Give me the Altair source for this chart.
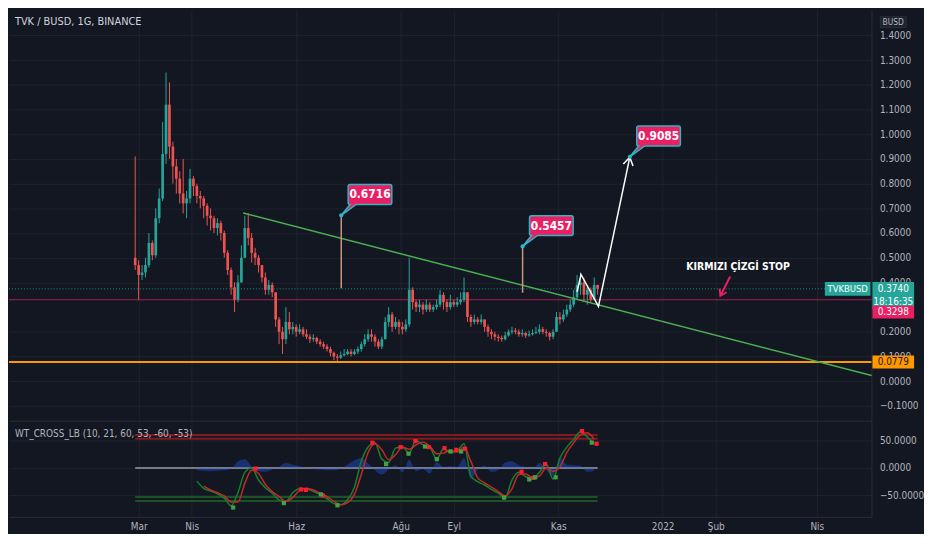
import json
import altair as alt
import pandas as pd

# ---------------- layout / style ----------------
W, H1, H2 = 870, 414, 97
X_DOMAIN = [-75.7, 427.9]          # days from 2021-03-01
YP_DOMAIN = [-0.16, 1.502]
YW_DOMAIN = [-89, 86]
BG = "#131722"
GRID = "#1e222d"
BORDER = "#2a2e39"
LABEL = "#b2b5be"
UP = "#26a69a"
DOWN = "#ef5350"
FONT = "DejaVu Sans Condensed, Liberation Sans, sans-serif"

# ---------------- texts / ticks ----------------
TITLE = "TVK / BUSD, 1G, BINANCE"
IND_TITLE = "WT_CROSS_LB (10, 21, 60, 53, -60, -53)"
NOTE = "KIRMIZI ÇİZGİ STOP"
TICK_DAYS = [0, 31, 92, 153, 184, 245, 306, 337, 396]
TICK_LABELS = ["Mar", "Nis", "Haz", "Ağu", "Eyl", "Kas", "2022", "Şub", "Nis"]
PRICE_TICKS = [-0.1, 0.0, 0.1, 0.2, 0.4, 0.5, 0.6, 0.7, 0.8, 0.9, 1.0, 1.1, 1.2, 1.3, 1.4]
WT_TICKS = [-50, 0, 50]

# ---------------- candles (2-day bars from 2021-02-27) ----------------
first_open = 0.50
close = [0.47, 0.43, 0.44, 0.47, 0.56, 0.51, 0.66, 0.74, 0.92, 1.12,
         0.95, 0.87, 0.82, 0.76, 0.72, 0.74, 0.82, 0.79, 0.75, 0.74,
         0.71, 0.67, 0.66, 0.62, 0.64, 0.60, 0.52, 0.45, 0.38, 0.33,
         0.40, 0.50, 0.62, 0.58, 0.52, 0.50, 0.47, 0.42, 0.37, 0.39,
         0.36, 0.25, 0.20, 0.17, 0.24, 0.21, 0.22, 0.20, 0.21, 0.19,
         0.18, 0.17, 0.175, 0.16, 0.15, 0.14, 0.13, 0.115, 0.10, 0.095,
         0.105, 0.11, 0.12, 0.11, 0.12, 0.13, 0.15, 0.17, 0.19, 0.18,
         0.16, 0.14, 0.17, 0.24, 0.27, 0.22, 0.24, 0.22, 0.21, 0.23,
         0.37, 0.32, 0.30, 0.31, 0.29, 0.31, 0.29, 0.30, 0.31, 0.35,
         0.32, 0.30, 0.32, 0.31, 0.32, 0.33, 0.36, 0.26, 0.24, 0.25,
         0.24, 0.25, 0.22, 0.20, 0.19, 0.18, 0.175, 0.17, 0.185, 0.20,
         0.205, 0.20, 0.19, 0.195, 0.185, 0.19, 0.195, 0.20, 0.21, 0.20,
         0.195, 0.18, 0.20, 0.26, 0.25, 0.27, 0.29, 0.31, 0.34, 0.39,
         0.40, 0.35, 0.37, 0.33, 0.39, 0.374]
high = [0.91, 0.49, 0.47, 0.50, 0.60, 0.57, 0.70, 0.78, 1.05, 1.25,
        1.21, 0.97, 0.90, 0.85, 0.90, 0.77, 0.86, 0.83, 0.80, 0.77,
        0.75, 0.72, 0.70, 0.67, 0.66, 0.65, 0.61, 0.53, 0.46, 0.40,
        0.43, 0.55, 0.67, 0.68, 0.60, 0.54, 0.51, 0.47, 0.44, 0.41,
        0.40, 0.36, 0.26, 0.22, 0.30, 0.28, 0.24, 0.23, 0.23, 0.22,
        0.21, 0.19, 0.19, 0.18, 0.17, 0.16, 0.15, 0.14, 0.12, 0.11,
        0.12, 0.13, 0.13, 0.13, 0.13, 0.14, 0.16, 0.19, 0.21, 0.21,
        0.19, 0.17, 0.18, 0.26, 0.30, 0.28, 0.26, 0.25, 0.24, 0.25,
        0.50, 0.38, 0.33, 0.33, 0.32, 0.33, 0.32, 0.31, 0.33, 0.37,
        0.36, 0.33, 0.35, 0.33, 0.34, 0.36, 0.42, 0.36, 0.27, 0.27,
        0.26, 0.27, 0.25, 0.23, 0.21, 0.20, 0.19, 0.185, 0.20, 0.21,
        0.22, 0.215, 0.21, 0.21, 0.20, 0.205, 0.21, 0.22, 0.23, 0.22,
        0.21, 0.20, 0.21, 0.28, 0.28, 0.29, 0.31, 0.33, 0.37, 0.43,
        0.44, 0.42, 0.39, 0.38, 0.42, 0.39]
low = [0.45, 0.33, 0.41, 0.42, 0.46, 0.49, 0.50, 0.64, 0.73, 0.88,
       0.90, 0.80, 0.76, 0.72, 0.68, 0.66, 0.72, 0.75, 0.72, 0.70,
       0.66, 0.63, 0.61, 0.60, 0.59, 0.57, 0.50, 0.43, 0.35, 0.28,
       0.32, 0.40, 0.50, 0.55, 0.48, 0.47, 0.44, 0.40, 0.35, 0.35,
       0.34, 0.22, 0.15, 0.11, 0.15, 0.19, 0.19, 0.18, 0.19, 0.18,
       0.17, 0.155, 0.16, 0.15, 0.14, 0.13, 0.12, 0.10, 0.085, 0.08,
       0.09, 0.10, 0.105, 0.10, 0.105, 0.11, 0.12, 0.14, 0.16, 0.16,
       0.14, 0.13, 0.13, 0.17, 0.22, 0.20, 0.21, 0.19, 0.19, 0.20,
       0.22, 0.29, 0.28, 0.28, 0.27, 0.28, 0.28, 0.28, 0.29, 0.30,
       0.29, 0.28, 0.29, 0.30, 0.30, 0.31, 0.32, 0.24, 0.22, 0.23,
       0.23, 0.23, 0.20, 0.18, 0.17, 0.165, 0.16, 0.16, 0.165, 0.18,
       0.19, 0.19, 0.18, 0.18, 0.175, 0.18, 0.185, 0.19, 0.19, 0.19,
       0.18, 0.165, 0.17, 0.20, 0.23, 0.24, 0.26, 0.28, 0.30, 0.33,
       0.35, 0.32, 0.31, 0.32, 0.33, 0.35]

# ---------------- drawings ----------------
CURRENT = 0.3740
STOP_LEVEL = 0.3298
SUPPORT_LEVEL = 0.0779
trend_days = [61.0, 428.0]
trend_prices = [0.681, 0.023]
path_days = [256.0, 258.3, 268.5, 286.8]
path_prices = [0.362, 0.432, 0.303, 0.907]
note_days = [118.3, 224.2, 286.8]
note_prices = [0.6716, 0.5457, 0.9085]
note_labels = ["0.6716", "0.5457", "0.9085"]
stem_days = [118.3, 224.2]
stem_top = [0.6716, 0.5457]
stem_bottom = [0.376, 0.358]
stop_arrow_days = [345.4, 339.7]
stop_arrow_prices = [0.424, 0.346]
note_text_day = 350.0
note_text_price = 0.463

# ---------------- WaveTrend indicator (every 4 days from day 34) ----------------
wt_days = list(range(34, 267, 4))
wt1 = [-24, -37, -42, -47, -55, -69, -45, -8, 0, -22,
       -36, -46, -58, -61, -45, -38, -38, -43, -48, -56,
       -65, -67, -58, -35, 12, 38, 46, 16, 10, 36,
       38, 27, 50, 42, 38, 16, 35, 28, 31, 44,
       -15, -25, -31, -39, -46, -54, -22, -8, -16, -20,
       -8, 7, -20, 18, 38, 52, 66, 56, 45]
wt2 = [None, -33, -40, -45, -51, -62, -62, -28, -4, -10,
       -30, -43, -52, -61, -54, -41, -37, -40, -46, -52,
       -61, -67, -63, -48, -12, 28, 44, 33, 15, 24,
       38, 34, 42, 47, 40, 26, 27, 32, 29, 38,
       12, -18, -27, -35, -43, -51, -38, -12, -11, -18,
       -15, 0, -6, 2, 28, 46, 60, 64, 52]
hist = [-4, -5, -6, -5, -4, -2, 12, 16, 3, -6,
        -7, -3, 2, 9, 6, 3, 0, -2, -3, -4,
        -4, -1, 6, 14, 18, 8, -4, -12, -3, 5,
        -8, 15, -6, -2, -10, 11, 2, 3, 2, 18,
        -20, -3, 4, -7, -4, 10, 12, 5, 2, -3,
        9, -4, -14, 20, 6, 5, 4, -7, -5]
dot_days = [68.3, 94.9, 97.7, 107.5, 136.5, 153.0, 161.6, 169.5, 178.6, 185.5,
            190.6, 223.6, 230.5, 237.3, 258.9, 267.4,
            55.2, 84.8, 106.4, 116.1, 144.5, 157.6, 167.2, 174.1, 182.1, 188.3,
            213.4, 228.1, 231.5, 243.5, 264.6]
dot_vals = [-1, -39, -40, -50, 46, 38, 49, 38, 36, 33,
            35, -7, -18, 7, 67, 44,
            -72, -64, -48, -68, 7, 26, 39, 16, 30, 30,
            -54, -21, -17, -17, 46]
dot_kind = ["down"] * 16 + ["up"] * 15
band_levels = [60, 53, -53, -60]
band_colors = ["#801a1f", "#801a1f", "#1b5226", "#1b5226"]
band_span = [-2, 268]

# ---------------- tables ----------------
n = len(close)
days = [-2 + 2 * i for i in range(n)]
opens = [first_open] + close[:-1]
candles = pd.DataFrame({"day": days, "open": opens, "high": high, "low": low, "close": close})
candles["dir"] = ["up" if c >= o else "down" for o, c in zip(opens, close)]

xscale = alt.Scale(domain=X_DOMAIN, nice=False, zero=False)
yps = alt.Scale(domain=YP_DOMAIN, nice=False, zero=False)
yws = alt.Scale(domain=YW_DOMAIN, nice=False, zero=False)
label_expr = (json.dumps(TICK_LABELS, ensure_ascii=False) + "[indexof("
              + json.dumps(TICK_DAYS) + ", datum.value)]")

x_axis_top = alt.Axis(values=TICK_DAYS, labels=False, ticks=False, grid=True, gridColor=GRID,
                      domain=True, domainColor=BORDER, title=None)
x_axis_bot = alt.Axis(values=TICK_DAYS, labelExpr=label_expr, ticks=False, grid=True, gridColor=GRID,
                      domain=True, domainColor=BORDER, title=None, labelColor=LABEL,
                      labelFont=FONT, labelFontSize=10, labelPadding=5, labelFlush=False)
y_axis_top = alt.Axis(orient="right", values=PRICE_TICKS, format=".4f", grid=True, gridColor=GRID,
                      ticks=False, domain=True, domainColor=BORDER, labelColor=LABEL,
                      labelFont=FONT, labelFontSize=10, labelPadding=8, title=None)
y_axis_bot = alt.Axis(orient="right", values=WT_TICKS, format=".4f", grid=True, gridColor=GRID,
                      ticks=False, domain=True, domainColor=BORDER, labelColor=LABEL,
                      labelFont=FONT, labelFontSize=10, labelPadding=8, title=None)


def XT(f):
    return alt.X(f, type="quantitative", scale=xscale, axis=x_axis_top)


def YT(f):
    return alt.Y(f, type="quantitative", scale=yps, axis=y_axis_top)


def XB(f):
    return alt.X(f, type="quantitative", scale=xscale, axis=x_axis_bot)


def YB(f):
    return alt.Y(f, type="quantitative", scale=yws, axis=y_axis_bot)


dir_color = alt.Color("dir:N", scale=alt.Scale(domain=["up", "down"], range=[UP, DOWN]), legend=None)

# ---------------- main pane ----------------
cbase = alt.Chart(candles)
wicks = cbase.mark_rule(strokeWidth=1).encode(x=XT("day"), y=YT("low"), y2="high", color=dir_color)
bodies = cbase.mark_rule(strokeWidth=2.7).encode(x=XT("day"), y=YT("open"), y2="close", color=dir_color)

lvl = pd.DataFrame({"price": [CURRENT, STOP_LEVEL, SUPPORT_LEVEL]})
cur_line = alt.Chart(lvl.iloc[[0]]).mark_rule(color=UP, strokeWidth=1, strokeDash=[1, 2], opacity=0.8).encode(
    x=alt.value(0), x2=alt.value(W), y=YT("price"))
stop_line = alt.Chart(lvl.iloc[[1]]).mark_rule(color="#a3204f", strokeWidth=1).encode(
    x=alt.value(0), x2=alt.value(W), y=YT("price"))
sup_line = alt.Chart(lvl.iloc[[2]]).mark_rule(color="#ff9800", strokeWidth=2).encode(
    x=alt.value(0), x2=alt.value(W), y=YT("price"))

trend = alt.Chart(pd.DataFrame({"day": trend_days, "price": trend_prices})).mark_line(
    color="#4caf50", strokeWidth=1.5).encode(x=XT("day"), y=YT("price"))

stems = alt.Chart(pd.DataFrame({"day": stem_days, "top": stem_top, "bot": stem_bottom})).mark_rule(
    color="#c9977f", strokeWidth=1.5).encode(x=XT("day"), y=YT("top"), y2="bot")

wpath = alt.Chart(pd.DataFrame({"day": path_days, "price": path_prices, "o": list(range(len(path_days)))})).mark_line(
    color="white", strokeWidth=1.5).encode(x=XT("day"), y=YT("price"), order="o:Q")
whead = alt.Chart(pd.DataFrame({"day": [path_days[-1]], "price": [path_prices[-1]]})).mark_point(
    shape="M-5,8L0,0L5,8", size=4, filled=False, color="white", strokeWidth=1.5, angle=12, opacity=1).encode(
    x=XT("day"), y=YT("price"))

notes = pd.DataFrame({"day": note_days, "price": note_prices, "label": note_labels})
CALLOUT = "M0,0L9,-11Q7,-11 7,-13V-29Q7,-31 9,-31H49Q51,-31 51,-29V-13Q51,-11 49,-11H15Z"
note_box = alt.Chart(notes).mark_point(shape=CALLOUT, size=4, filled=True, fill="#e91e63",
                                       stroke="#2fb5c6", strokeWidth=1.5, opacity=1).encode(
    x=XT("day"), y=YT("price"))
note_dot = alt.Chart(notes).mark_point(shape="circle", size=18, filled=True, color="#2fb5c6", opacity=1).encode(
    x=XT("day"), y=YT("price"))
note_txt = alt.Chart(notes).mark_text(dx=29, dy=-21, color="white", font=FONT, fontSize=12, fontWeight="bold",
                                      align="center", baseline="middle").encode(
    x=XT("day"), y=YT("price"), text="label:N")

parrow = alt.Chart(pd.DataFrame({"day": stop_arrow_days, "price": stop_arrow_prices})).mark_line(
    color="#e91e63", strokeWidth=2).encode(x=XT("day"), y=YT("price"))
phead = alt.Chart(pd.DataFrame({"day": [stop_arrow_days[-1]], "price": [stop_arrow_prices[-1]]})).mark_point(
    shape="M-4,6L0,0L4,6", size=4, filled=False, color="#e91e63", strokeWidth=2, angle=207, opacity=1).encode(
    x=XT("day"), y=YT("price"))
ntext = alt.Chart(pd.DataFrame({"day": [note_text_day], "price": [note_text_price], "t": [NOTE]})).mark_text(
    color="white", font=FONT, fontSize=10.5, fontWeight="bold", align="center", baseline="middle").encode(
    x=XT("day"), y=YT("price"), text="t:N")

title = alt.Chart(pd.DataFrame({"t": [TITLE]})).mark_text(
    color="#d1d4dc", font=FONT, fontSize=11, align="left", baseline="middle").encode(
    x=alt.value(6), y=alt.value(12), text="t:N")

# axis tags
tags = pd.DataFrame({"price": [CURRENT, STOP_LEVEL, SUPPORT_LEVEL],
                     "label": ["0.3740", "0.3298", "0.0779"]})
TX = W + 22
tag_cur = alt.Chart(tags.iloc[[0]]).mark_point(shape="M-21,-7H21V20H-21Z", size=4, filled=True,
                                               color=UP, opacity=1).encode(x=alt.value(TX), y=YT("price"))
tag_stop = alt.Chart(tags.iloc[[1]]).mark_point(shape="M-21,6H21V19H-21Z", size=4, filled=True,
                                                color="#e91e63", opacity=1).encode(x=alt.value(TX), y=YT("price"))
tag_sup = alt.Chart(tags.iloc[[2]]).mark_point(shape="M-21,-6.5H21V6.5H-21Z", size=4, filled=True,
                                               color="#ff9800", opacity=1).encode(x=alt.value(TX), y=YT("price"))
txt_cur = alt.Chart(tags.iloc[[0]]).mark_text(color="white", font=FONT, fontSize=10, align="center",
                                              baseline="middle").encode(x=alt.value(TX), y=YT("price"), text="label:N")
txt_time = alt.Chart(pd.DataFrame({"price": [CURRENT], "t": ["18:16:35"]})).mark_text(
    color="white", font=FONT, fontSize=10, align="center", baseline="middle", dy=13).encode(
    x=alt.value(TX), y=YT("price"), text="t:N")
txt_stop = alt.Chart(tags.iloc[[1]]).mark_text(color="white", font=FONT, fontSize=10, align="center",
                                               baseline="middle", dy=12.5).encode(
    x=alt.value(TX), y=YT("price"), text="label:N")
txt_sup = alt.Chart(tags.iloc[[2]]).mark_text(color="#131722", font=FONT, fontSize=10, align="center",
                                              baseline="middle").encode(x=alt.value(TX), y=YT("price"), text="label:N")
sym = pd.DataFrame({"price": [CURRENT], "t": ["TVKBUSD"]})
tag_sym = alt.Chart(sym).mark_point(shape="M-23,-7H23V7H-23Z", size=4, filled=True, color=UP, opacity=1).encode(
    x=alt.value(W - 24), y=YT("price"))
txt_sym = alt.Chart(sym).mark_text(color="white", font=FONT, fontSize=9.5, align="center", baseline="middle").encode(
    x=alt.value(W - 24), y=YT("price"), text="t:N")
cur = pd.DataFrame({"t": ["BUSD"]})
busd_box = alt.Chart(cur).mark_point(shape="M-13,-5.5H13V5.5H-13Z", size=4, filled=True, fill="#1e222d",
                                     stroke=BORDER, strokeWidth=1, opacity=1).encode(x=alt.value(TX), y=alt.value(12))
busd_txt = alt.Chart(cur).mark_text(color=LABEL, font=FONT, fontSize=8.5, align="center", baseline="middle").encode(
    x=alt.value(TX), y=alt.value(12), text="t:N")

top = alt.layer(
    cur_line, stop_line, wicks, bodies, sup_line, trend, stems, wpath, whead,
    note_box, note_dot, note_txt, parrow, phead, ntext, title,
    tag_cur, tag_stop, tag_sup, txt_cur, txt_time, txt_stop, txt_sup, tag_sym, txt_sym, busd_box, busd_txt
).properties(width=W, height=H1)

# ---------------- indicator pane ----------------
wt = pd.DataFrame({"day": wt_days, "wt1": wt1, "wt2": wt2, "hist": hist})
bands = pd.DataFrame({"lvl": band_levels, "c": band_colors,
                      "x0": [band_span[0]] * 4, "x1": [band_span[1]] * 4})
band_rules = alt.Chart(bands).mark_rule(strokeWidth=2).encode(
    x=XB("x0"), x2="x1", y=YB("lvl"), color=alt.Color("c:N", scale=None))
zero_rule = alt.Chart(pd.DataFrame({"x0": [band_span[0]], "x1": [band_span[1]], "lvl": [0]})).mark_rule(
    strokeWidth=2, color="#787b86").encode(x=XB("x0"), x2="x1", y=YB("lvl"))
hist_area = alt.Chart(wt).mark_area(interpolate="monotone", color="#2962ff", opacity=0.35).encode(
    x=XB("day"), y=YB("hist"), y2=alt.datum(0))
l1 = alt.Chart(wt).mark_line(interpolate="monotone", color="#17802d", strokeWidth=1.5).encode(
    x=XB("day"), y=YB("wt1"))
l2 = alt.Chart(wt.dropna()).mark_line(interpolate="monotone", color="#c62828", strokeWidth=1.5).encode(
    x=XB("day"), y=YB("wt2"))
dots = alt.Chart(pd.DataFrame({"day": dot_days, "v": dot_vals, "k": dot_kind})).mark_square(
    size=18, opacity=1).encode(
    x=XB("day"), y=YB("v"),
    color=alt.Color("k:N", scale=alt.Scale(domain=["up", "down"], range=["#43a047", "#ff1a2e"]), legend=None))
ind_title = alt.Chart(pd.DataFrame({"t": [IND_TITLE]})).mark_text(
    color=LABEL, font=FONT, fontSize=10, align="left", baseline="middle").encode(
    x=alt.value(6), y=alt.value(13), text="t:N")

bottom = alt.layer(band_rules, zero_rule, hist_area, l1, l2, dots, ind_title).properties(width=W, height=H2)

chart = alt.vconcat(top, bottom, spacing=0).resolve_scale(color="independent").properties(
    padding={"left": 0, "top": 0, "right": 0, "bottom": 0}
).configure(background=BG).configure_view(stroke=None)

chart.save("out.html", embed_options={"renderer": "svg", "actions": False})
